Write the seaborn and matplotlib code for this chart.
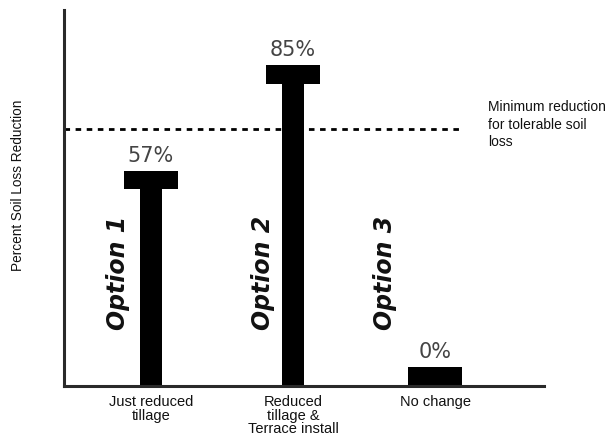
import numpy as np
import pandas as pd
import matplotlib
matplotlib.use('Agg')
import matplotlib.pyplot as plt
import seaborn as sns

# ── data ────────────────────────────────────────────────────────────────────
practices = ['Just reduced\ntillage', 'Reduced\ntillage &\nTerrace install', 'No change']
options = ['Option 1', 'Option 2', 'Option 3']
reduction = [57, 85, 0]
value_labels = ['57%', '85%', '0%']
tolerable_min = 68
note = 'Minimum reduction\nfor tolerable soil\nloss'
y_title = 'Percent Soil Loss Reduction'

CAP = 5  # thickness of the "T" cap, in percent units

df = pd.DataFrame({'practice': practices, 'reduction': reduction})
df['cap_bottom'] = (df['reduction'] - CAP).clip(lower=0)
df['cap_top'] = df['cap_bottom'] + CAP

sns.set_style('white')
plt.rcParams['font.family'] = ['Liberation Sans', 'DejaVu Sans']

fig = plt.figure(figsize=(6.08, 4.45), dpi=100)
ax = fig.add_axes([0.106, 0.1337, 0.789, 0.8438])

# stems
sns.barplot(data=df, x='practice', y='cap_bottom', color='black', saturation=1,
            width=0.155, errorbar=None, ax=ax, linewidth=0)
# caps
xs = np.arange(len(df))
ax.bar(xs, CAP, bottom=df['cap_bottom'], width=0.38, color='black', linewidth=0)

# value labels above caps
for x, top, lab in zip(xs, df['cap_top'], value_labels):
    ax.text(x, top + 1.3, lab, ha='center', va='bottom', fontsize=15,
            color='#444444', family=['DejaVu Sans'])

# rotated option names next to the stems
opt_offset = [-0.232, -0.211, -0.352]
for x, off, name in zip(xs, opt_offset, options):
    ax.text(x + off, 30, name, rotation=90, ha='center', va='center',
            fontsize=17, fontweight='bold', fontstyle='italic',
            family=['DejaVu Sans'], color='#111111')

# tolerable-loss threshold
ax.axhline(tolerable_min, xmin=0, xmax=0.829, color='black', linestyle=(0, (2, 2)),
           linewidth=2)
ax.text(2.373, 75.6, note, ha='left', va='top', fontsize=10, color='#111111',
        linespacing=1.3)

ax.set_xlim(-0.609, 2.768)
ax.set_ylim(0, 99.6)
ax.set_yticks([])
ax.set_xlabel('')
ax.set_ylabel('')
ax.tick_params(axis='x', length=0, pad=7, labelsize=10.5, labelcolor='#111111')
for lab in ax.get_xticklabels():
    lab.set_linespacing(0.95)
    lab.set_verticalalignment('top')

sns.despine(ax=ax)
for side in ['left', 'bottom']:
    ax.spines[side].set_linewidth(2.2)
    ax.spines[side].set_color('#2a2a2a')

fig.text(0.03, 0.584, y_title, rotation=90, ha='center', va='center',
         fontsize=9.8, color='#111111')

fig.savefig('out.png', dpi=100, facecolor='white')
plt.close(fig)
